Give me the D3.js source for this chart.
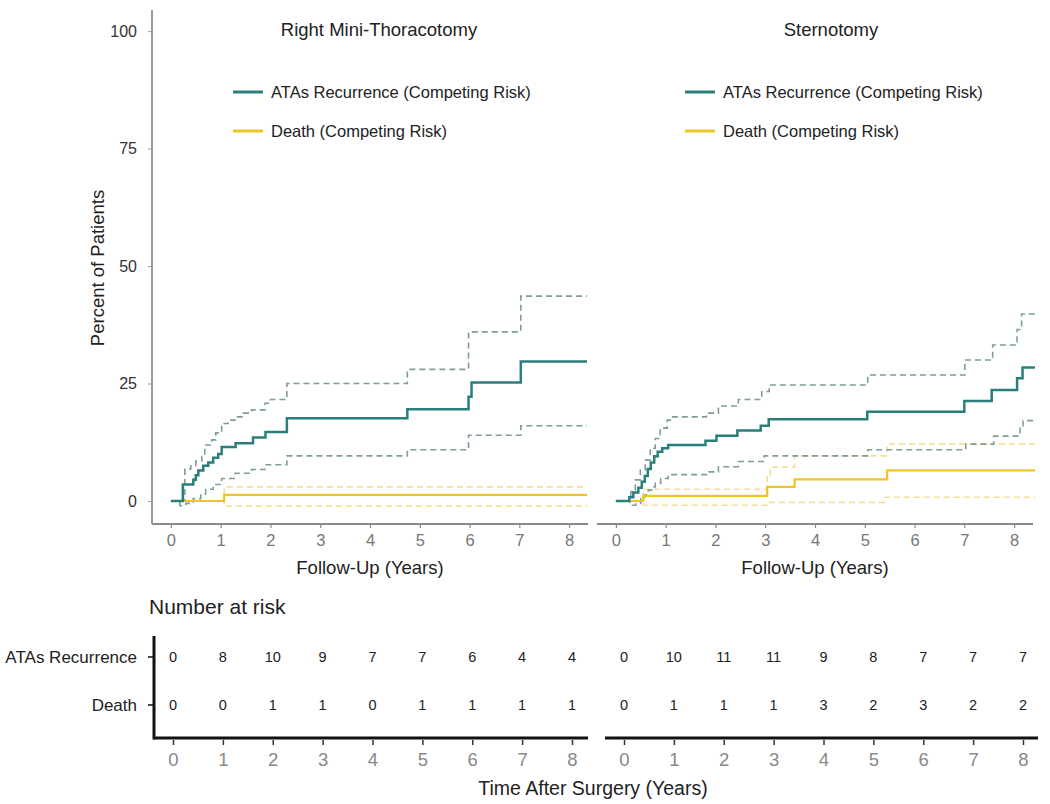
<!DOCTYPE html>
<html>
<head>
<meta charset="utf-8">
<script src="https://cdn.jsdelivr.net/npm/d3@7"></script>
<style>
  html, body { margin: 0; padding: 0; background: #fff; }
  svg { display: block; font-family: "Liberation Sans", Arial, sans-serif; }
</style>
</head>
<body>
<svg id="chart" width="1050" height="804"></svg>
<script>
// ---------------- DATA ----------------
const panelTitles = ["Right Mini-Thoracotomy", "Sternotomy"];
const legendLabels = ["ATAs Recurrence (Competing Risk)", "Death (Competing Risk)"];
const yTicks = [0, 25, 50, 75, 100];
const xTicks = [0, 1, 2, 3, 4, 5, 6, 7, 8];

// Right Mini-Thoracotomy: ATAs recurrence cumulative incidence [years, %]
const rmtAtas = [[0,0],[0.18,0],[0.24,3.5],[0.45,4.5],[0.5,5.5],[0.55,6.5],[0.65,7.5],[0.75,8.2],[0.85,9.2],[0.95,10.0],[1.02,11.5],[1.3,12.3],[1.65,13.5],[1.9,14.7],[2.33,17.6],[4.75,19.5],[5.98,22.2],[6.04,25.2],[7.03,29.7],[8.36,29.7]];
const rmtAtasUpper = [[0,0],[0.2,0],[0.28,6.8],[0.4,7.5],[0.5,8.5],[0.62,9.8],[0.68,11.9],[0.82,13],[0.9,14.5],[1.02,16.5],[1.15,17.2],[1.29,17.9],[1.45,18.7],[1.62,19.4],[1.89,20.8],[2.0,21.6],[2.33,25],[4.75,28],[5.98,36],[7.03,43.6],[8.36,43.6]];
const rmtAtasLower = [[0,0],[0.18,-1],[0.3,-0.5],[0.45,0.5],[0.6,1.5],[0.7,2.5],[0.85,3.5],[1.02,4.8],[1.29,5.9],[1.62,6.7],[1.89,7.7],[2.33,9.6],[4.75,10.9],[5.98,14],[7.03,16],[8.36,16]];
const rmtDeath = [[0,0],[1.07,1.3],[8.36,1.3]];
const rmtDeathUpper = [[0,0],[1.07,3.0],[8.36,3.0]];
const rmtDeathLower = [[0,0],[1.07,-1.1],[8.36,-1.1]];

// Sternotomy
const stAtas = [[0,0],[0.25,0],[0.27,0.8],[0.35,1.8],[0.45,2.8],[0.52,4.1],[0.58,5.3],[0.64,6.8],[0.7,8.2],[0.77,9.5],[0.84,10.5],[0.93,11.2],[1.05,11.9],[1.8,12.8],[2.02,13.9],[2.44,15],[2.91,16],[3.07,17.4],[5.05,19],[7.0,21.3],[7.55,23.6],[8.06,26.1],[8.17,28.4],[8.42,28.4]];
const stAtasUpper = [[0,0],[0.25,0],[0.3,2],[0.39,4.5],[0.49,6.6],[0.59,8.7],[0.69,11.2],[0.79,13.3],[0.89,15.5],[1.03,17.2],[1.12,17.9],[1.82,18.7],[2.06,20.2],[2.46,21.6],[2.93,23.3],[3.08,24.7],[5.06,26.8],[7.01,30],[7.57,33.2],[8.06,36.5],[8.15,39.8],[8.42,39.8]];
const stAtasLower = [[0,0],[0.25,0],[0.28,-0.9],[0.4,-0.5],[0.5,0.5],[0.58,1.3],[0.65,2.3],[0.72,3.0],[0.79,3.8],[0.9,4.8],[1.05,5.6],[1.82,6.2],[2.06,7.3],[2.46,8.4],[2.98,9.6],[5.06,10.9],[7.03,12.1],[7.59,13.8],[8.12,15.5],[8.18,17.1],[8.42,17.1]];
const stDeath = [[0,0],[0.55,1.1],[3.04,3.0],[3.59,4.6],[5.45,6.5],[8.42,6.5]];
const stDeathUpper = [[0,0],[0.55,2.5],[3.04,5.5],[3.1,7.2],[3.59,9.6],[5.45,12.1],[8.42,12.1]];
const stDeathLower = [[0,0],[0.55,-0.9],[3.04,-0.3],[5.4,0.8],[8.42,0.8]];

// Number at risk
const riskRows = ["ATAs Recurrence", "Death"];
const riskTimes = [0, 1, 2, 3, 4, 5, 6, 7, 8];
const rmtRiskAtas = [0, 8, 10, 9, 7, 7, 6, 4, 4];
const rmtRiskDeath = [0, 0, 1, 1, 0, 1, 1, 1, 1];
const stRiskAtas = [0, 10, 11, 11, 9, 8, 7, 7, 7];
const stRiskDeath = [0, 1, 1, 1, 3, 2, 3, 2, 2];

// ---------------- DRAW ----------------
const svg = d3.select("#chart");
const teal = "#2b7f7a", tealCI = "#7e9d9b", gold = "#efc523", goldCI = "#f6df97";
const textDark = "#222";
const FF = "Liberation Sans, Arial, sans-serif";

const y = d3.scaleLinear().domain([-4.9, 104.5]).range([524, 10]);

const panels = [
  { title: panelTitles[0], titleX: 379, range: [152, 588], atas: rmtAtas, atasU: rmtAtasUpper, atasL: rmtAtasLower,
    death: rmtDeath, deathU: rmtDeathUpper, deathL: rmtDeathLower, legendX: 233, yAxis: true,
    riskRange: [173, 572], riskLine: [154, 588], riskA: rmtRiskAtas, riskD: rmtRiskDeath },
  { title: panelTitles[1], titleX: 831, range: [597, 1033], atas: stAtas, atasU: stAtasUpper, atasL: stAtasLower,
    death: stDeath, deathU: stDeathUpper, deathL: stDeathLower, legendX: 685, yAxis: false,
    riskRange: [624, 1023], riskLine: [605, 1038], riskA: stRiskAtas, riskD: stRiskDeath }
];

panels.forEach(p => {
  const x = d3.scaleLinear().domain([-0.38, 8.38]).range(p.range);
  const g = svg.append("g");
  const line = d3.line().x(d => x(d[0])).y(d => y(d[1])).curve(d3.curveStepAfter);

  // Bottom axis
  const xa = g.append("g").attr("transform", "translate(0,524)")
    .call(d3.axisBottom(x).tickValues(xTicks).tickSize(4).tickPadding(6).tickFormat(d3.format("d")));
  xa.select(".domain").attr("d", `M${p.range[0]},0H${p.range[1]}`).attr("stroke", "#8a8a8a").attr("stroke-width", 2);
  xa.selectAll(".tick line").attr("stroke", "#8a8a8a").attr("stroke-width", 1.2);
  xa.selectAll(".tick text").attr("fill", "#777").attr("font-size", 16.5).attr("font-family", FF);

  g.append("text").attr("x", (x(0) + x(8)) / 2).attr("y", 574).attr("text-anchor", "middle")
    .attr("font-size", 18.5).attr("fill", textDark).text("Follow-Up (Years)");

  if (p.yAxis) {
    const ya = g.append("g").attr("transform", `translate(${p.range[0]},0)`)
      .call(d3.axisLeft(y).tickValues(yTicks).tickSize(4).tickPadding(11));
    ya.select(".domain").attr("d", `M0,10V524`).attr("stroke", "#9a9a9a").attr("stroke-width", 2);
    ya.selectAll(".tick line").attr("stroke", "#9a9a9a");
    ya.selectAll(".tick text").attr("fill", "#333").attr("font-size", 16).attr("font-family", FF);
    g.append("text").attr("transform", "translate(104,268) rotate(-90)").attr("text-anchor", "middle")
      .attr("font-size", 18.5).attr("fill", textDark).text("Percent of Patients");
  }

  // Title
  g.append("text").attr("x", p.titleX).attr("y", 36).attr("text-anchor", "middle")
    .attr("font-size", 18.5).attr("fill", textDark).text(p.title);

  // Legend
  [[teal, legendLabels[0], 92], [gold, legendLabels[1], 131]].forEach(([c, lab, ly]) => {
    g.append("line").attr("x1", p.legendX).attr("x2", p.legendX + 30).attr("y1", ly).attr("y2", ly)
      .attr("stroke", c).attr("stroke-width", 3);
    g.append("text").attr("x", p.legendX + 38).attr("y", ly).attr("dy", "0.35em")
      .attr("font-size", 16.5).attr("fill", textDark).text(lab);
  });

  // CI lines
  [p.deathU, p.deathL].forEach(d => {
    g.append("path").datum(d).attr("d", line).attr("fill", "none").attr("stroke", goldCI)
      .attr("stroke-width", 1.6).attr("stroke-dasharray", "6,4");
  });
  [p.atasU, p.atasL].forEach(d => {
    g.append("path").datum(d).attr("d", line).attr("fill", "none").attr("stroke", tealCI)
      .attr("stroke-width", 1.6).attr("stroke-dasharray", "6,4");
  });
  g.append("path").datum(p.death).attr("d", line).attr("fill", "none").attr("stroke", gold).attr("stroke-width", 2.2);
  g.append("path").datum(p.atas).attr("d", line).attr("fill", "none").attr("stroke", teal).attr("stroke-width", 2.5);

  // Risk table
  const rx = d3.scaleLinear().domain([0, 8]).range(p.riskRange);
  const ra = g.append("g").attr("transform", "translate(0,738)")
    .call(d3.axisBottom(rx).tickValues(riskTimes).tickSize(7).tickPadding(8).tickFormat(d3.format("d")));
  ra.select(".domain").attr("d", `M${p.riskLine[0]},0H${p.riskLine[1]}`).attr("stroke", "#111").attr("stroke-width", 3);
  ra.selectAll(".tick line").attr("stroke", "#333").attr("stroke-width", 1.5).attr("y1", 2);
  ra.selectAll(".tick text").attr("fill", "#888").attr("font-size", 18.5).attr("font-family", FF);

  [[p.riskA, 657], [p.riskD, 705]].forEach(([vals, ry]) => {
    g.selectAll(null).data(vals).join("text")
      .attr("x", (d, i) => rx(riskTimes[i])).attr("y", ry).attr("dy", "0.35em")
      .attr("text-anchor", "middle").attr("font-size", 14.5).attr("fill", textDark).text(d => d);
  });
});

// Risk table left axis & labels
svg.append("line").attr("x1", 154).attr("x2", 154).attr("y1", 636).attr("y2", 739.5)
  .attr("stroke", "#111").attr("stroke-width", 3);
[[riskRows[0], 657], [riskRows[1], 705]].forEach(([lab, ry]) => {
  svg.append("line").attr("x1", 148).attr("x2", 154).attr("y1", ry).attr("y2", ry).attr("stroke", "#111").attr("stroke-width", 1.5);
  svg.append("text").attr("x", 137).attr("y", ry).attr("dy", "0.35em").attr("text-anchor", "end")
    .attr("font-size", 17).attr("fill", textDark).text(lab);
});
svg.append("text").attr("x", 149).attr("y", 614).attr("font-size", 21).attr("fill", textDark).text("Number at risk");
svg.append("text").attr("x", 593).attr("y", 795).attr("text-anchor", "middle")
  .attr("font-size", 19.5).attr("fill", textDark).text("Time After Surgery (Years)");
</script>
</body>
</html>
